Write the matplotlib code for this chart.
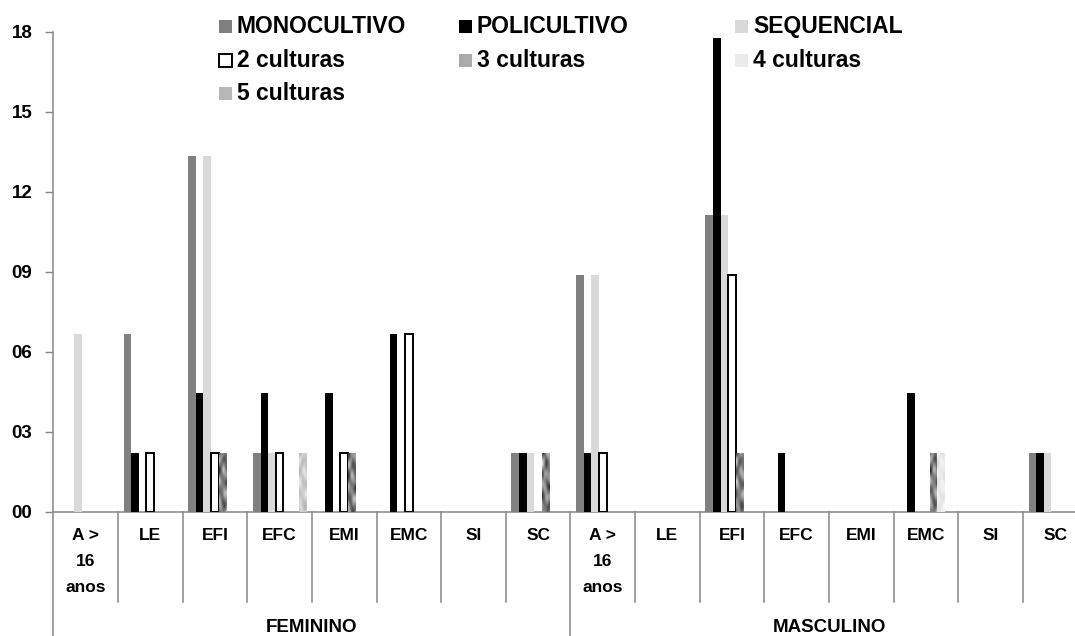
import numpy as np
import matplotlib
matplotlib.use("Agg")
import matplotlib.pyplot as plt
from matplotlib.patches import Rectangle

plt.rcParams['font.family'] = ['Liberation Sans', 'DejaVu Sans']
plt.rcParams['font.weight'] = 'bold'

# ---- data -------------------------------------------------------------
groups = ['FEMININO', 'MASCULINO']
categories = ['A >\n16\nanos', 'LE', 'EFI', 'EFC', 'EMI', 'EMC', 'SI', 'SC']

series_names = ['MONOCULTIVO', 'POLICULTIVO', 'SEQUENCIAL',
                '2 culturas', '3 culturas', '4 culturas', '5 culturas']

# values per category: FEMININO (8) followed by MASCULINO (8)
monocultivo = [0, 6.67, 13.33, 2.22, 0, 0, 0, 2.22,
               8.89, 0, 11.11, 0, 0, 0, 0, 2.22]
policultivo = [0, 2.22, 4.44, 4.44, 4.44, 6.67, 0, 2.22,
               2.22, 0, 17.78, 2.22, 0, 4.44, 0, 2.22]
sequencial = [6.67, 0, 13.33, 2.22, 0, 0, 0, 2.22,
              8.89, 0, 11.11, 0, 0, 0, 0, 2.22]
culturas_2 = [0, 2.22, 2.22, 2.22, 2.22, 6.67, 0, 0,
              2.22, 0, 8.89, 0, 0, 0, 0, 0]
culturas_3 = [0, 0, 2.22, 0, 2.22, 0, 0, 2.22,
              0, 0, 2.22, 0, 0, 2.22, 0, 0]
culturas_4 = [0, 0, 0, 0, 0, 0, 0, 0,
              0, 0, 0, 0, 0, 2.22, 0, 0]
culturas_5 = [0, 0, 0, 2.22, 0, 0, 0, 0,
              0, 0, 0, 0, 0, 0, 0, 0]

yticks = [0, 3, 6, 9, 12, 15, 18]
ytick_labels = ['00', '03', '06', '09', '12', '15', '18']

all_series = [monocultivo, policultivo, sequencial,
              culturas_2, culturas_3, culturas_4, culturas_5]

# ---- styles -----------------------------------------------------------
solid_styles = [
    dict(color='#808080'),
    dict(color='#000000'),
    dict(color='#d9d9d9'),
    dict(facecolor='white', edgecolor='black', linewidth=1.4),
]
# marble-like fills: (mean colour, base level, amplitude, phase)
textures = [
    ('#7a7a7a', 0.50, 0.36, 0.0),
    ('#eeeeee', 0.92, 0.07, 1.7),
    ('#c4c4c4', 0.80, 0.16, 3.1),
]


def marble(rows, cols, base, amp, phase):
    i, j = np.mgrid[0:rows, 0:cols].astype(float)
    z = np.sin(0.83 * i + phase) * np.cos(1.05 * j + 0.4 * np.sin(0.5 * i + phase))
    z += 0.7 * np.sin(0.37 * i + 1.7 * j + 2.0 * phase) * np.cos(0.61 * i - phase)
    z /= 1.4
    return np.clip(base + amp * z, 0, 1)


GRAY = '#868686'
W, H, DPI = 1075, 636, 100
fig = plt.figure(figsize=(W / DPI, H / DPI), dpi=DPI)

left_px, right_px = 53.3, 53.3 + 16 * 64.64
top_px, zero_px = 31.7, 511.7
ax = fig.add_axes([left_px / W, (H - zero_px) / H,
                   (right_px - left_px) / W, (zero_px - top_px) / H])

n_cat = len(categories) * len(groups)
x = np.arange(n_cat) + 0.5
bw = 0.1176

for k, vals in enumerate(all_series):
    vals = np.asarray(vals, dtype=float)
    keep = vals > 0
    xs = (x + (k - 3) * bw)[keep]
    hs = vals[keep]
    if k < 4:
        ax.bar(xs, hs, width=bw, zorder=3, **solid_styles[k])
    else:
        mean_col, base, amp, phase = textures[k - 4]
        bars = ax.bar(xs, hs, width=bw, color=mean_col, zorder=3)
        for b, v in zip(bars, hs):
            tex = marble(int(v * 9) + 2, 5, base, amp, phase + b.get_x() * 2.3)
            im = ax.imshow(tex, cmap='gray', vmin=0, vmax=1, aspect='auto',
                           interpolation='bicubic', zorder=3.5,
                           extent=[b.get_x(), b.get_x() + bw, 0, v])
            im.set_clip_path(b)

ax.set_xlim(0, n_cat)
ax.set_ylim(0, 18)
ax.set_yticks(yticks)
ax.set_yticklabels(ytick_labels)
ax.set_xticks([])
ax.tick_params(axis='y', direction='out', length=6, width=1, color=GRAY,
               pad=9, labelsize=13.5)
for s in ('top', 'right'):
    ax.spines[s].set_visible(False)
for s in ('left', 'bottom'):
    ax.spines[s].set_color(GRAY)
    ax.spines[s].set_linewidth(1.1)

# category separators and labels below the axis
tr = ax.get_xaxis_transform()
span = zero_px - top_px
inner_depth = -(602 - zero_px) / span
outer_depth = -(H - zero_px) / span
for b in range(n_cat + 1):
    depth = outer_depth if b % len(categories) == 0 else inner_depth
    ax.plot([b, b], [0, depth], color=GRAY, lw=1.1, transform=tr, clip_on=False)

lab_top = -(528 - zero_px) / span
grp_y = -(628 - zero_px) / span
for g in range(len(groups)):
    for c, name in enumerate(categories):
        ax.text(g * len(categories) + c + 0.5, lab_top, name, transform=tr,
                ha='center', va='top', fontsize=12.5, linespacing=1.9)
    ax.text(g * len(categories) + len(categories) / 2, grp_y, groups[g],
            transform=tr, ha='center', va='center', fontsize=13.5)

# legend laid out in three columns, row by row
text_x = [237, 477, 753]
row_base = [33, 67, 100]
sq = 13
legend_fills = [
    dict(facecolor='#808080', edgecolor='none'),
    dict(facecolor='#000000', edgecolor='none'),
    dict(facecolor='#d9d9d9', edgecolor='none'),
    dict(facecolor='white', edgecolor='black', linewidth=1.4),
    dict(facecolor='#aaaaaa', edgecolor='none'),
    dict(facecolor='#ececec', edgecolor='none'),
    dict(facecolor='#b8b8b8', edgecolor='none'),
]
for idx, name in enumerate(series_names):
    r, c = divmod(idx, 3)
    tx, yb = text_x[c], row_base[r]
    fig.patches.append(Rectangle(((tx - sq - 5) / W, (H - yb) / H), sq / W, sq / H,
                                 transform=fig.transFigure, **legend_fills[idx]))
    fig.text(tx / W, (H - yb) / H, name, ha='left', va='baseline',
             fontsize=16.5)

fig.savefig('out.png', dpi=DPI)
